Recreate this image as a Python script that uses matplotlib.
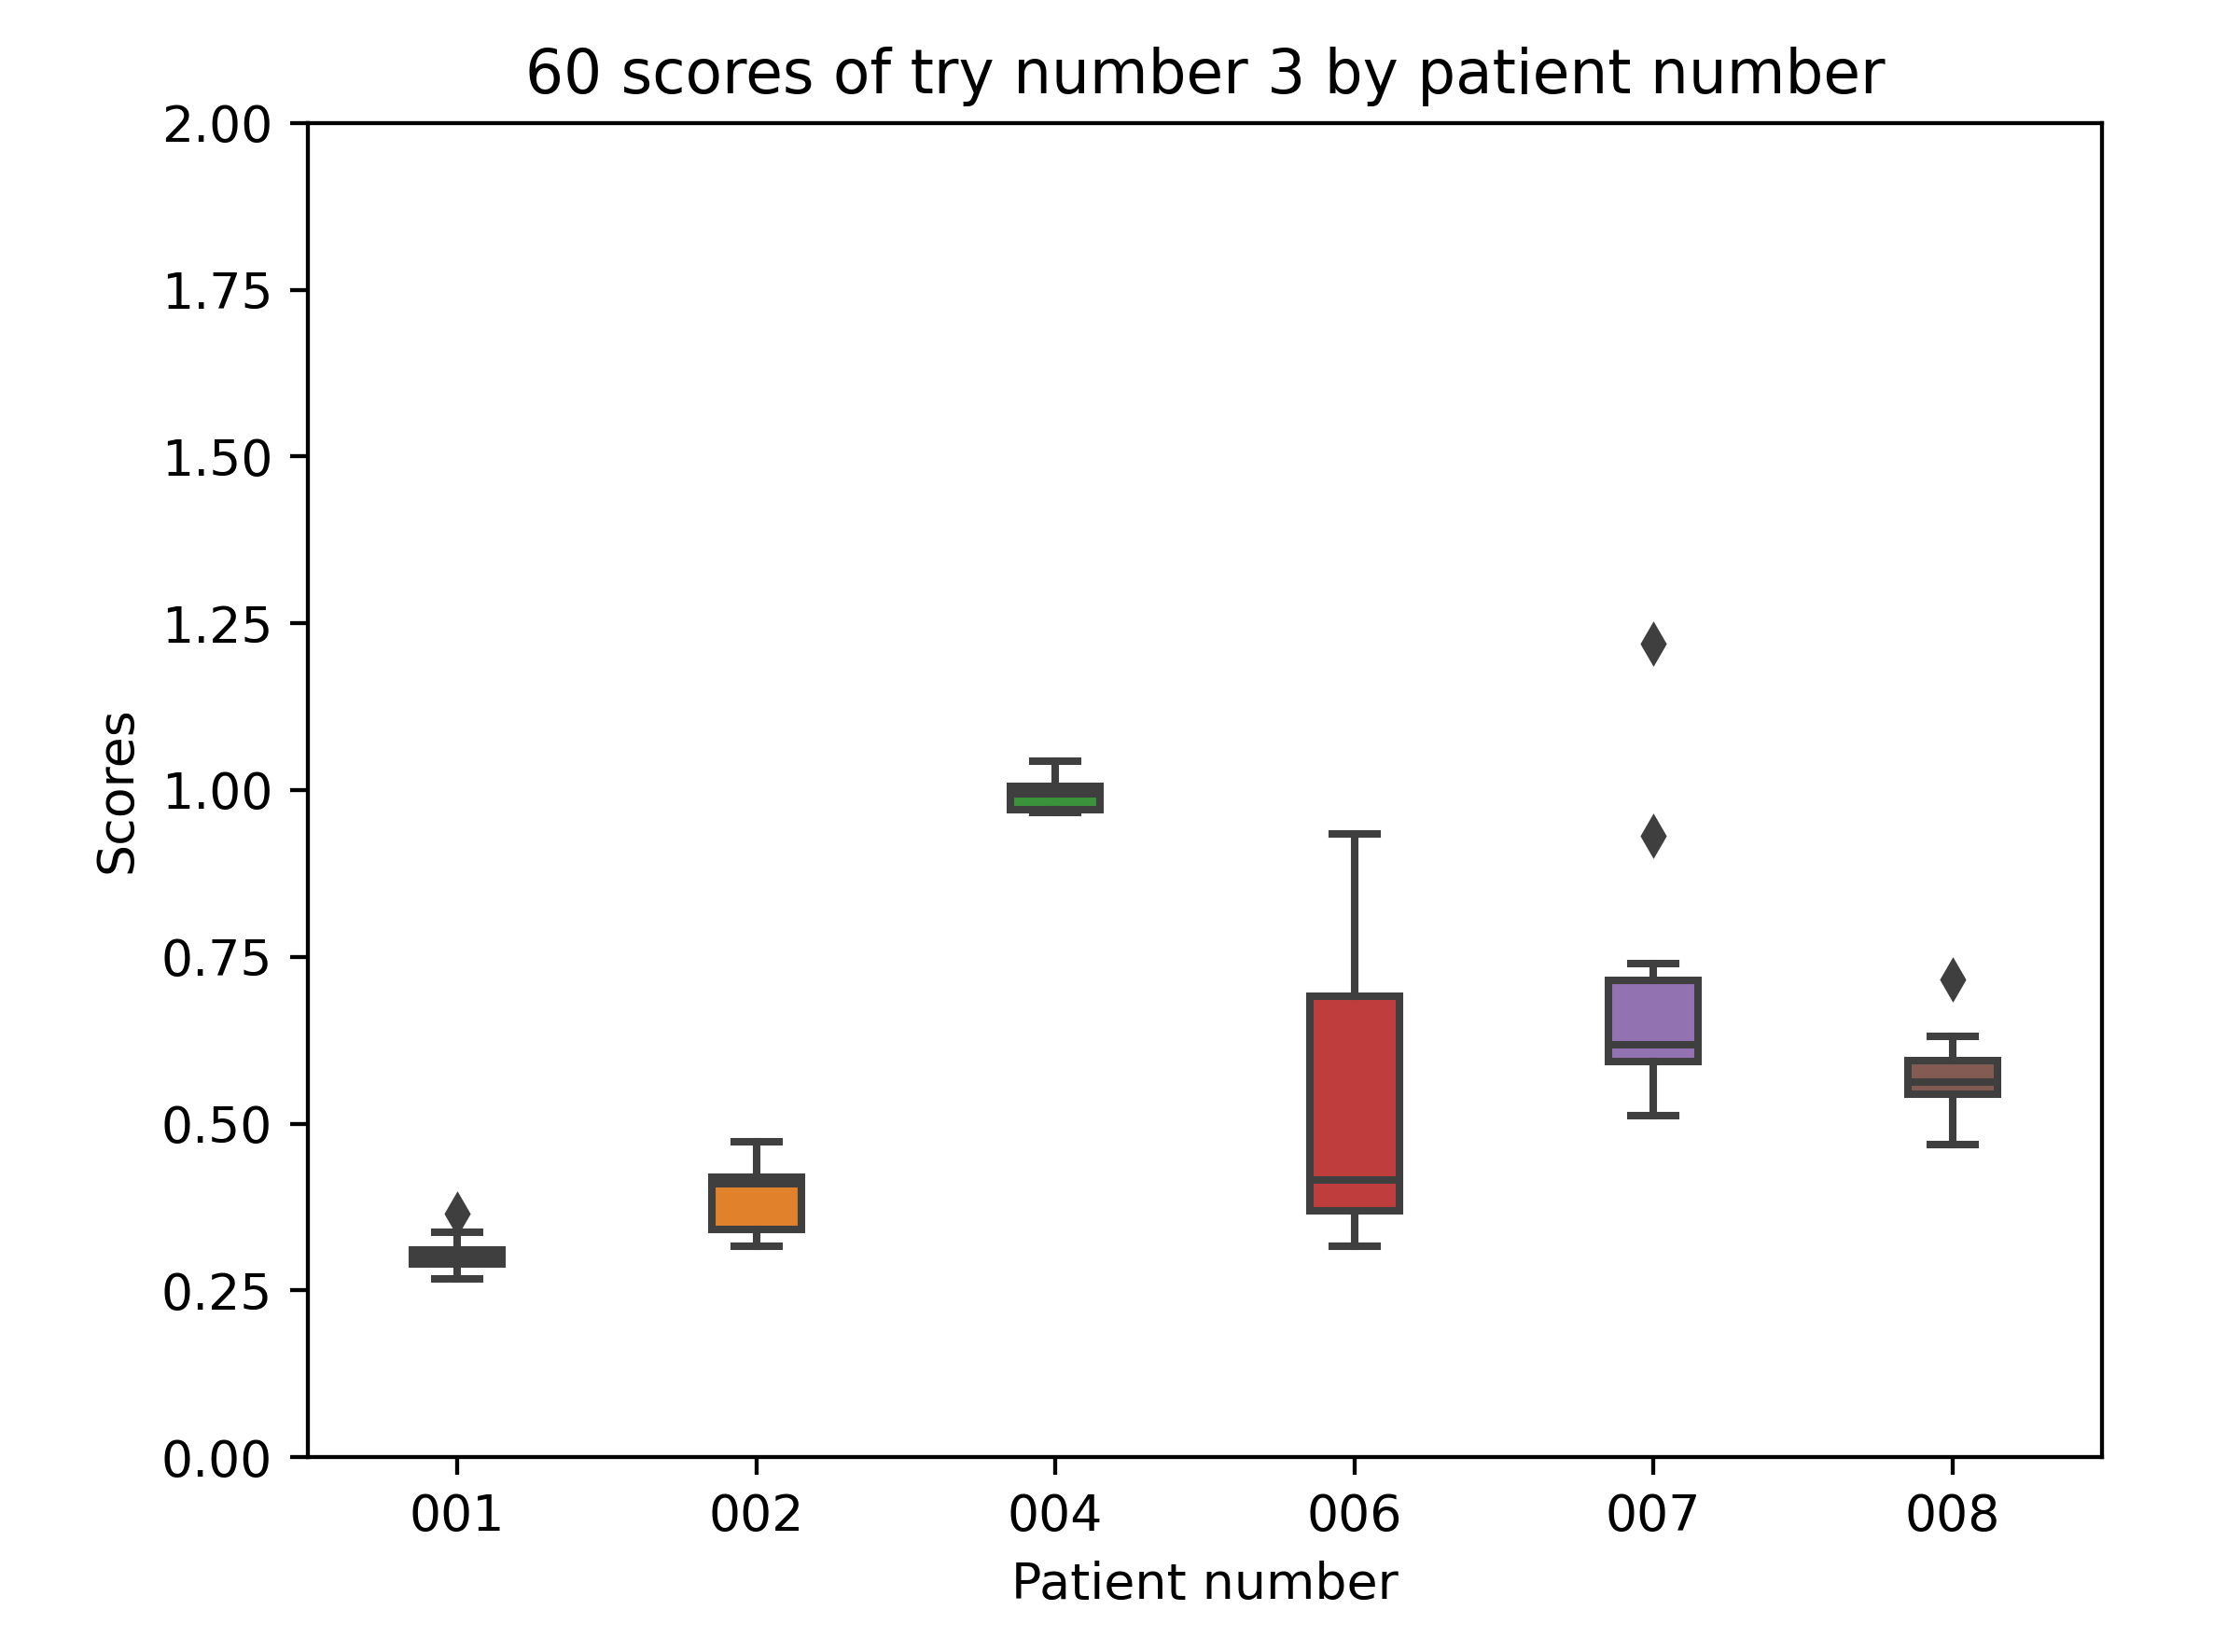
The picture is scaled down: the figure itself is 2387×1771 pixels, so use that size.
import matplotlib.pyplot as plt

patients = ["001", "002", "004", "006", "007", "008"]
q1 = [0.290, 0.341, 0.970, 0.369, 0.593, 0.544]
med = [0.300, 0.410, 0.994, 0.416, 0.618, 0.562]
q3 = [0.311, 0.420, 1.006, 0.691, 0.714, 0.595]
whislo = [0.267, 0.316, 0.966, 0.316, 0.512, 0.469]
whishi = [0.337, 0.473, 1.043, 0.934, 0.740, 0.631]
fliers = [[0.365], [], [], [], [1.220, 0.932], [0.716]]
colors = ["#3274a1", "#e1812c", "#3a923a", "#c03d3e", "#9372b2", "#845b53"]
gray = "#3f3f3f"

stats = []
for i, p in enumerate(patients):
    stats.append(dict(label=p, q1=q1[i], med=med[i], q3=q3[i],
                      whislo=whislo[i], whishi=whishi[i], fliers=fliers[i]))

dpi = 387
fig = plt.figure(figsize=(2387 / dpi, 1771 / dpi), dpi=dpi)
ax = fig.add_axes([0.1382, 0.1180, 0.8056, 0.8075])

lw = 1.5
bp = ax.bxp(stats, positions=range(len(patients)), widths=0.3, patch_artist=True,
            boxprops=dict(edgecolor=gray, linewidth=lw),
            medianprops=dict(color=gray, linewidth=lw),
            whiskerprops=dict(color=gray, linewidth=lw),
            capprops=dict(color=gray, linewidth=lw),
            flierprops=dict(marker="d", markerfacecolor=gray, markeredgecolor=gray,
                            markersize=5))
for patch, c in zip(bp["boxes"], colors):
    patch.set_facecolor(c)

ax.set_xlim(-0.5, len(patients) - 0.5)
ax.set_ylim(0, 2)
ax.set_xticks(range(len(patients)))
ax.set_xticklabels(patients)
ax.set_xlabel("Patient number")
ax.set_ylabel("Scores")
ax.set_title("60 scores of try number 3 by patient number")

fig.savefig("out.png", dpi=dpi)
